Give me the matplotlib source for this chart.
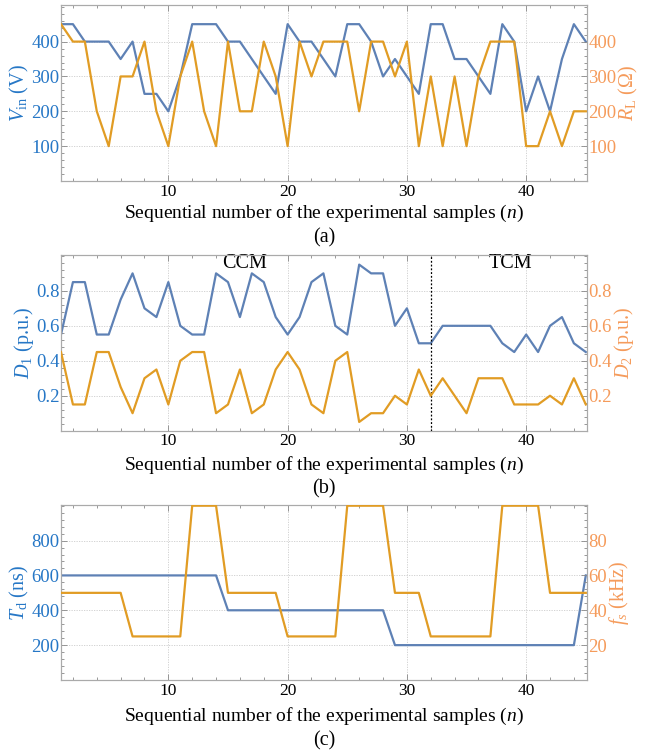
import matplotlib
matplotlib.use("Agg")
import matplotlib.pyplot as plt
import numpy as np
from matplotlib.ticker import AutoMinorLocator, MultipleLocator

plt.rcParams['font.family'] = ['Liberation Serif', 'DejaVu Serif']
plt.rcParams['mathtext.fontset'] = 'custom'
plt.rcParams['mathtext.rm'] = 'Liberation Serif'
plt.rcParams['mathtext.it'] = 'Liberation Serif:italic'

# sample index
n = np.arange(1, 46)

# (a) input voltage and load
v_in = [450, 450, 400, 400, 400, 350, 400, 250, 250, 200,
        300, 450, 450, 450, 400, 400, 350, 300, 250, 450,
        400, 400, 350, 300, 450, 450, 400, 300, 350, 300,
        250, 450, 450, 350, 350, 300, 250, 450, 400, 200,
        300, 200, 350, 450, 400]
r_l = [450, 400, 400, 200, 100, 300, 300, 400, 200, 100,
       300, 400, 200, 100, 400, 200, 200, 400, 300, 100,
       400, 300, 400, 400, 400, 200, 400, 400, 300, 400,
       100, 300, 100, 300, 100, 300, 400, 400, 400, 100,
       100, 200, 100, 200, 200]

# (b) duty cycles
d1 = [0.55, 0.85, 0.85, 0.55, 0.55, 0.75, 0.9, 0.7, 0.65, 0.85,
      0.6, 0.55, 0.55, 0.9, 0.85, 0.65, 0.9, 0.85, 0.65, 0.55,
      0.65, 0.85, 0.9, 0.6, 0.55, 0.95, 0.9, 0.9, 0.6, 0.7,
      0.5, 0.5, 0.6, 0.6, 0.6, 0.6, 0.6, 0.5, 0.45, 0.55,
      0.45, 0.6, 0.65, 0.5, 0.45]
d2 = [0.45, 0.15, 0.15, 0.45, 0.45, 0.25, 0.1, 0.3, 0.35, 0.15,
      0.4, 0.45, 0.45, 0.1, 0.15, 0.35, 0.1, 0.15, 0.35, 0.45,
      0.35, 0.15, 0.1, 0.4, 0.45, 0.05, 0.1, 0.1, 0.2, 0.15,
      0.35, 0.2, 0.3, 0.2, 0.1, 0.3, 0.3, 0.3, 0.15, 0.15,
      0.15, 0.2, 0.15, 0.3, 0.15]
mode_switch = 32

# (c) dead time and switching frequency
t_d = [600, 600, 600, 600, 600, 600, 600, 600, 600, 600,
       600, 600, 600, 600, 400, 400, 400, 400, 400, 400,
       400, 400, 400, 400, 400, 400, 400, 400, 200, 200,
       200, 200, 200, 200, 200, 200, 200, 200, 200, 200,
       200, 200, 200, 200, 600]
f_s = [50, 50, 50, 50, 50, 50, 25, 25, 25, 25,
       25, 100, 100, 100, 50, 50, 50, 50, 50, 25,
       25, 25, 25, 25, 100, 100, 100, 100, 50, 50,
       50, 25, 25, 25, 25, 25, 25, 100, 100, 100,
       100, 50, 50, 50, 50]

blue = '#5E81B5'
orange = '#E19C24'
lblue = '#2677C6'
lorange = '#F59B5B'
xlabel = 'Sequential number of the experimental samples ($n$)'

W, H = 645, 753
fig = plt.figure(figsize=(W / 100, H / 100), dpi=100)


def panel(top, bot, y1, y2, ylim, ticks, lab1, lab2, letter, xlab_y, let_y):
    ax = fig.add_axes([61 / W, 1 - bot / H, 526 / W, (bot - top) / H])
    ax2 = ax.twinx()
    ax.plot(n, y1, color=blue, lw=1.6, zorder=3)
    ax2.plot(n, y2, color=orange, lw=1.6, zorder=3)
    ax.set_xlim(1, 45.1)
    ax.set_ylim(*ylim)
    ax2.set_ylim(*ylim)
    ax.xaxis.set_major_locator(MultipleLocator(10))
    ax.xaxis.set_minor_locator(MultipleLocator(2))
    for a, c, lab in ((ax, lblue, lab1), (ax2, lorange, lab2)):
        a.set_yticks(ticks)
        a.yaxis.set_minor_locator(AutoMinorLocator(5))
        a.tick_params(axis='y', which='both', direction='in', colors='#888888',
                      labelcolor=c, labelsize=13.5, length=4, width=0.6, pad=1)
        a.tick_params(axis='y', which='minor', length=2)
        a.set_ylabel(lab, color=c, fontsize=14.5, labelpad=0)
        for s in a.spines.values():
            s.set_color('#aaaaaa')
    ax.tick_params(axis='x', which='both', direction='in', top=True,
                   colors='#888888', labelcolor='black', labelsize=12.5,
                   length=4, width=0.6, pad=2)
    ax.tick_params(axis='x', which='minor', length=2)
    ax.grid(True, color='#cccccc', ls=(0, (1.5, 1.5)), lw=0.6)
    ax.set_xlabel(xlabel, fontsize=14)
    ax.xaxis.label.set_va('center')
    ax.xaxis.set_label_coords(0.5, -(xlab_y - bot) / (bot - top))
    fig.text(0.5 * (61 + 587) / W, 1 - let_y / H, letter, ha='center',
             va='center', fontsize=14.5)
    return ax, ax2


ax_a, _ = panel(5, 181, v_in, r_l, (0, 505), [100, 200, 300, 400],
                r'$V_{\rm in}$ (V)', r'$R_{\rm L}$ ($\Omega$)', '(a)', 213.5, 238)

ax_b, _ = panel(255, 430.7, d1, d2, (0, 1.005), [0.2, 0.4, 0.6, 0.8],
                r'$D_1$ (p.u.)', r'$D_2$ (p.u.)', '(b)', 465.5, 489)
ax_b.axvline(mode_switch, color='black', ls=(0, (1.5, 1.5)), lw=0.9, zorder=4)
ax_b.text(16.4, 0.955, 'CCM', ha='center', va='center', fontsize=14.5)
ax_b.text(38.7, 0.955, 'TCM', ha='center', va='center', fontsize=14.5)

ax_c, ax_c2 = panel(505, 680, t_d, f_s, (0, 1004), [200, 400, 600, 800],
                    r'$T_{\rm d}$ (ns)', r'$f_s$ (kHz)', '(c)', 716, 741)
ax_c2.set_ylim(0, 100.4)
ax_c2.set_yticks([20, 40, 60, 80])

fig.savefig('out.png', dpi=100)
